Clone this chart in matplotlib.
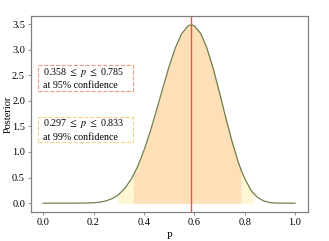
import numpy as np
import matplotlib
matplotlib.use('Agg')
import matplotlib.pyplot as plt
from matplotlib.patches import Rectangle

# posterior curve
p = np.array([0.0, 0.05, 0.1, 0.15, 0.175, 0.2, 0.225, 0.25, 0.275, 0.297, 0.3,
              0.325, 0.35, 0.358, 0.375, 0.4, 0.425, 0.45, 0.475, 0.5, 0.525,
              0.55, 0.575, 0.588, 0.6, 0.625, 0.65, 0.675, 0.7, 0.725, 0.75,
              0.775, 0.785, 0.8, 0.825, 0.833, 0.85, 0.875, 0.9, 0.925, 0.95,
              0.975, 1.0])
posterior = np.array([0.0, 0.0, 0.0, 0.001, 0.003, 0.008, 0.020, 0.045, 0.091, 0.159, 0.170,
                      0.294, 0.473, 0.544, 0.717, 1.028, 1.399, 1.815, 2.250, 2.671, 3.038,
                      3.313, 3.463, 3.485, 3.468, 3.320, 3.032, 2.633, 2.163, 1.671, 1.203,
                      0.799, 0.661, 0.481, 0.257, 0.204, 0.118, 0.044, 0.012, 0.002, 0.0002,
                      0.0, 0.0])

mode = 0.588
ci95 = (0.358, 0.785)
ci99 = (0.297, 0.833)

plt.rcParams['font.family'] = ['Liberation Serif', 'DejaVu Serif']
plt.rcParams['mathtext.fontset'] = 'stix'
plt.rcParams['font.size'] = 7.5

fig = plt.figure(figsize=(3.29, 2.41), dpi=100)
ax = fig.add_axes([0.093, 0.120, 0.842, 0.814])

ax.fill_between(p, posterior, where=(p >= ci99[0]) & (p <= ci99[1]),
                color='#fff6d3', linewidth=0)
ax.fill_between(p, posterior, where=(p >= ci95[0]) & (p <= ci95[1]),
                color='#fde0b8', linewidth=0)
ax.plot(p, posterior, color='#556b2f', lw=0.9, alpha=0.85)
ax.axvline(mode, color='#ff4d4d', lw=1.0)

# confidence boxes
for (lo, hi, conf, col, y0, y1) in [(ci95[0], ci95[1], 95, '#f49a80', 0.617, 0.750),
                                    (ci99[0], ci99[1], 99, '#f5d08a', 0.357, 0.485)]:
    ax.add_patch(Rectangle((0.025, y0), 0.344, y1 - y0, transform=ax.transAxes,
                           facecolor='white', edgecolor=col, ls='--', lw=0.8, zorder=5))
    ax.text(0.043, (y0 + y1) / 2, '%.3f $\\leq$ $p$ $\\leq$ %.3f\nat %d%% confidence' % (lo, hi, conf),
            transform=ax.transAxes, va='center', ha='left', fontsize=7.2, zorder=6,
            linespacing=1.4)

ax.set_xlabel('P')
ax.set_ylabel('Posterior')
ax.xaxis.set_label_coords(0.5, -0.1)
ax.yaxis.set_label_coords(-0.063, 0.5)
ax.set_xticks([0.0, 0.2, 0.4, 0.6, 0.8, 1.0])
ax.set_yticks(np.arange(0, 3.6, 0.5))
for s in ax.spines.values():
    s.set_color('#808080')
    s.set_linewidth(0.9)
ax.tick_params(length=2, width=0.6, color='#808080', pad=2)

fig.savefig('out.png', dpi=100)
